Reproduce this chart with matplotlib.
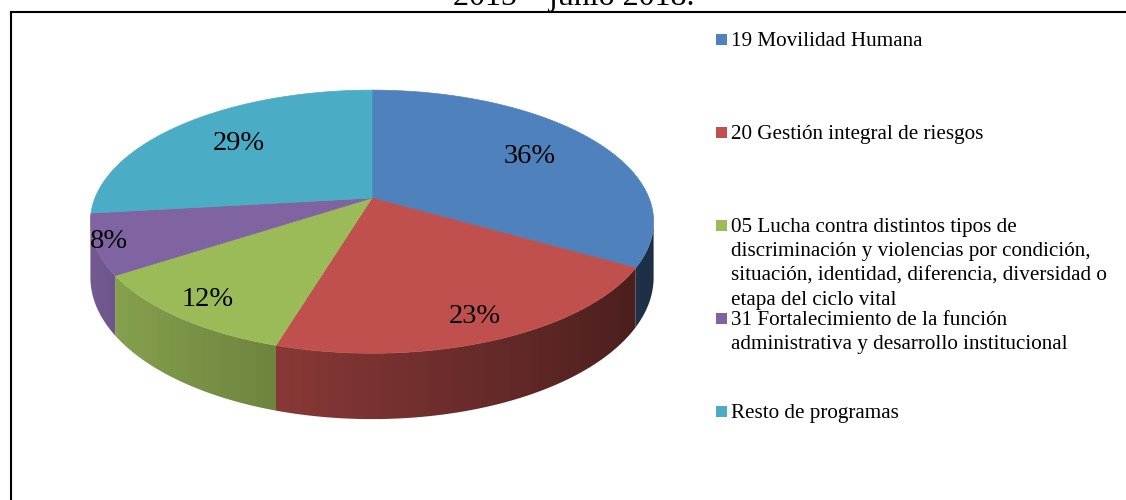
import numpy as np
import matplotlib
matplotlib.use("Agg")
import matplotlib.pyplot as plt
from matplotlib.patches import Polygon, Rectangle
from matplotlib.lines import Line2D
from matplotlib.colors import to_rgb

# ---------------- data ----------------
categories = [
    "19 Movilidad Humana",
    "20 Gestión integral de riesgos",
    "05 Lucha contra distintos tipos de\ndiscriminación y violencias por condición,\n"
    "situación, identidad, diferencia, diversidad o\netapa del ciclo vital",
    "31 Fortalecimiento de la función\nadministrativa y desarrollo institucional",
    "Resto de programas",
]
values = [36, 23, 12, 8, 29]
colors = ["#4F81BD", "#C0504D", "#9BBB59", "#8064A2", "#4BACC6"]
title = "2015 – junio 2018."

# ---------------- style / layout ----------------
plt.rcParams['font.family'] = ['Liberation Serif', 'DejaVu Serif']
W, H = 1126, 500
fig = plt.figure(figsize=(W / 100, H / 100), dpi=100)
ax = fig.add_axes([0, 0, 1, 1])
ax.set_xlim(0, W)
ax.set_ylim(H, 0)
ax.axis('off')

# perspective projection of the pie top (pixel units)
CX, CY = 372, 198           # projected pie centre
A, B, K = 277, 127.3, 0.18  # horizontal scale, vertical scale, perspective
D0 = 54                     # thickness
label_r = [0.70, 0.86, 0.87, 0.95, 0.70]


def proj(r, t):
    u = r * np.cos(t)
    v = r * np.sin(t)
    w = 1 + K * v
    return CX + A * u / w, CY - B * v / w, w


def shade(t):
    return 0.63 - 0.28 * np.cos(t)


vals = np.array(values, float)
frac = vals / vals.sum()
edges = np.deg2rad(90 - 360 * np.concatenate([[0], np.cumsum(frac)]))

vis_lo = -np.pi + np.arcsin(K)
vis_hi = -np.arcsin(K)

# mapping screen x -> shading along the visible front rim
t_front = np.linspace(vis_lo, vis_hi, 2000)
x_front, _, _ = proj(1, t_front)
f_front = shade(t_front)

# ---- sides (drawn first), gradient fill clipped to each side face ----
for i, col in enumerate(colors):
    hi, lo = edges[i], edges[i + 1]
    rgb = np.array(to_rgb(col))
    for sh in (-2 * np.pi, 0, 2 * np.pi):
        a = max(lo + sh, vis_lo)
        b = min(hi + sh, vis_hi)
        if b <= a:
            continue
        ts = np.linspace(a, b, 300)
        xs, ys, ws = proj(1, ts)
        top = list(zip(xs, ys))
        bot = list(zip(xs[::-1], (ys + D0 / ws)[::-1]))
        face = Polygon(top + bot, closed=True, facecolor='none', edgecolor='none')
        ax.add_patch(face)
        x0, x1 = xs.min() - 2, xs.max() + 2
        y0, y1 = ys.min() - 2, (ys + D0 / ws).max() + 2
        ncol = int(x1 - x0) + 1
        gx = np.linspace(x0, x1, ncol)
        fx = np.interp(gx, x_front, f_front)
        img = np.clip(rgb[None, None, :] * fx[None, :, None], 0, 1)
        img = np.repeat(img, 4, axis=0)
        im = ax.imshow(img, extent=(x0, x1, y1, y0), aspect='auto',
                       interpolation='bilinear', zorder=1)
        im.set_clip_path(face)

# ---- top wedges ----
for i, col in enumerate(colors):
    hi, lo = edges[i], edges[i + 1]
    ts = np.linspace(hi, lo, 200)
    xs, ys, _ = proj(1, ts)
    pts = [(CX, CY)] + list(zip(xs, ys))
    ax.add_patch(Polygon(pts, closed=True, facecolor=col, edgecolor=col,
                         lw=0.5, zorder=2))

# ---- percent labels ----
for i, v in enumerate(values):
    tm = 0.5 * (edges[i] + edges[i + 1])
    x, y, _ = proj(label_r[i], tm)
    ax.text(x, y, f"{v}%", ha='center', va='center', fontsize=20.5,
            color='black', zorder=3)

# ---- legend ----
leg_x, leg_tx = 716, 731
base0, step, line_step = 46, 93, 24.3
for i, (lab, col) in enumerate(zip(categories, colors)):
    by = base0 + i * step
    ax.add_patch(Rectangle((leg_x, by - 12), 11, 11, facecolor=col,
                           edgecolor='none', zorder=3))
    for j, line in enumerate(lab.split("\n")):
        ax.text(leg_tx, by + j * line_step, line, ha='left', va='baseline',
                fontsize=15.2, color='black', zorder=3)

# ---- frame and cut title ----
ax.add_line(Line2D([11, W], [12, 12], color='black', lw=1.5, zorder=4))
ax.add_line(Line2D([11, 11], [12, H], color='black', lw=1.5, zorder=4))
ax.text(574, 5, title, ha='center', va='baseline', fontsize=23, color='black')

fig.savefig("out.png", dpi=100)
